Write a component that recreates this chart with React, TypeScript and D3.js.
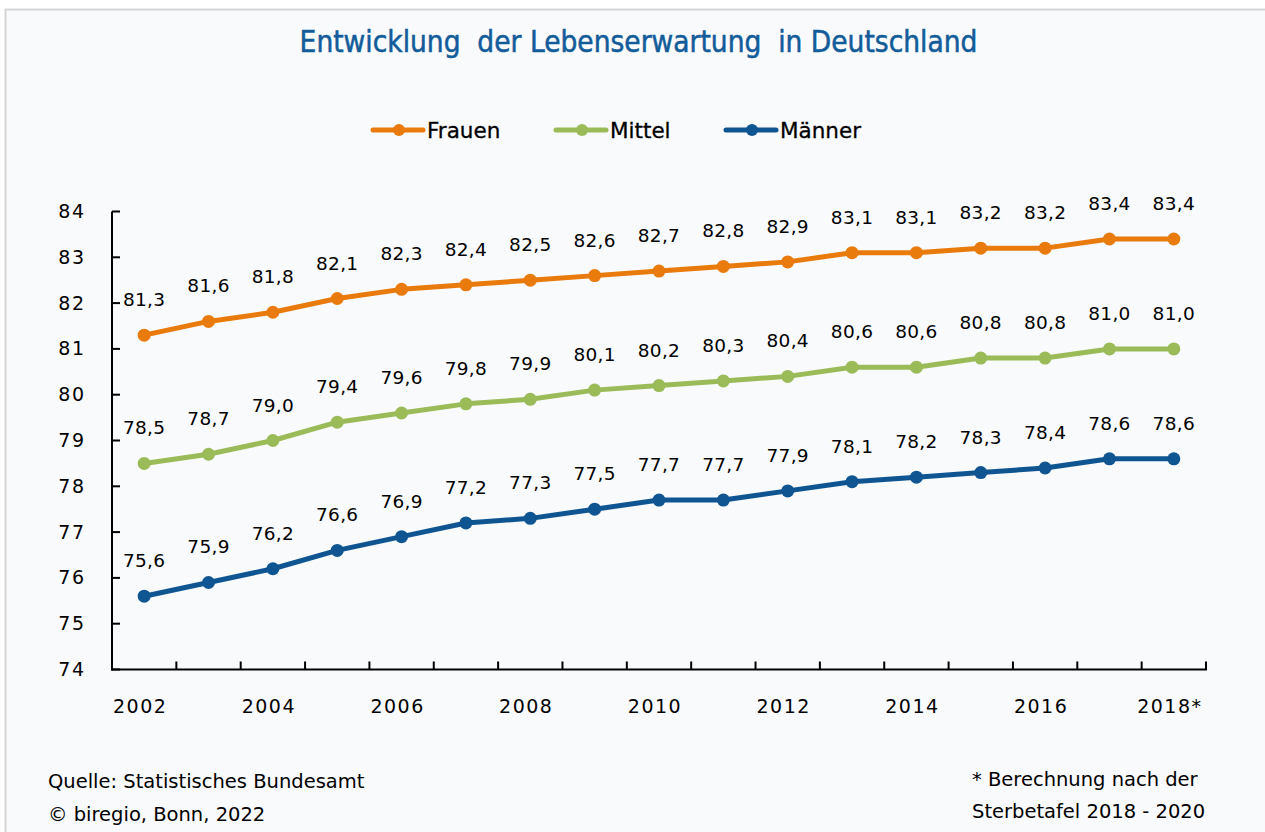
import React from "react";
import * as d3 from "d3";

const years = ["2002","2003","2004","2005","2006","2007","2008","2009","2010","2011","2012","2013","2014","2015","2016","2017","2018"];
const xTickLabels = ["2002","","2004","","2006","","2008","","2010","","2012","","2014","","2016","","2018*"];
const frauen = [81.3,81.6,81.8,82.1,82.3,82.4,82.5,82.6,82.7,82.8,82.9,83.1,83.1,83.2,83.2,83.4,83.4];
const mittel = [78.5,78.7,79.0,79.4,79.6,79.8,79.9,80.1,80.2,80.3,80.4,80.6,80.6,80.8,80.8,81.0,81.0];
const maenner = [75.6,75.9,76.2,76.6,76.9,77.2,77.3,77.5,77.7,77.7,77.9,78.1,78.2,78.3,78.4,78.6,78.6];
const yTicks = [74,75,76,77,78,79,80,81,82,83,84];

const seriesList = [
  { name: "Frauen", values: frauen, color: "#E97A0C" },
  { name: "Mittel", values: mittel, color: "#9BBB59" },
  { name: "Männer", values: maenner, color: "#0E5591" },
];

const W = 1265, H = 832;
const NUM_FONT = "'DejaVu Sans', sans-serif";

export default function App() {
  const x = d3.scaleBand<string>().domain(years).range([112, 1206]).padding(0);
  const y = d3.scaleLinear().domain([74, 84]).range([669.5, 211.5]);
  const cx = (yr: string) => (x(yr) as number) + x.bandwidth() / 2;
  const line = d3.line<number>().x((_, i) => cx(years[i])).y((v) => y(v));
  const fmt = (v: number) => v.toFixed(1).replace(".", ",");

  const legendItems = [
    { ...seriesList[0], x0: 373 },
    { ...seriesList[1], x0: 556 },
    { ...seriesList[2], x0: 726 },
  ];

  return (
    <div style={{ position: "absolute", left: 0, top: 0 }}>
      <svg width={W} height={H} style={{ display: "block" }}>
        <rect x={0} y={0} width={W} height={H} fill="#ffffff" />
        <rect x={5.5} y={9.5} width={W + 10} height={H + 10} fill="#f9fafc" stroke="#d6d6d6" strokeWidth={2} />
        <text x={638.5} y={52} textAnchor="middle" fill="#125c9a" stroke="#125c9a" strokeWidth={0.5}
          style={{ fontFamily: "'DejaVu Sans Condensed', 'DejaVu Sans', sans-serif", fontSize: 29.5, whiteSpace: "pre" }}>
          {"Entwicklung  der Lebenserwartung  in Deutschland"}
        </text>

        {legendItems.map((l) => (
          <g key={l.name}>
            <line x1={l.x0} x2={l.x0 + 50} y1={130} y2={130} stroke={l.color} strokeWidth={5} strokeLinecap="round" />
            <circle cx={l.x0 + 26} cy={130} r={6} fill={l.color} />
            <text x={l.x0 + 54} y={138} fill="#000" stroke="#000" strokeWidth={0.3} style={{ fontFamily: NUM_FONT, fontSize: 21.5 }}>{l.name}</text>
          </g>
        ))}

        {/* axes */}
        <line x1={112} x2={112} y1={y(84)} y2={y(74) + 1} stroke="#000" strokeWidth={2} />
        <line x1={111} x2={1207} y1={y(74)} y2={y(74)} stroke="#000" strokeWidth={2} />
        {yTicks.map((t) => (
          <g key={t}>
            <line x1={112} x2={120} y1={y(t)} y2={y(t)} stroke="#000" strokeWidth={2} />
            <text x={85.5} y={y(t) + 6.5} textAnchor="end" fill="#000" style={{ fontFamily: NUM_FONT, fontSize: 19, letterSpacing: 1.5 }}>{t}</text>
          </g>
        ))}
        {years.map((yr, i) => (
          <g key={yr}>
            <line x1={(x(yr) as number) + x.bandwidth()} x2={(x(yr) as number) + x.bandwidth()} y1={y(74)} y2={y(74) - 8} stroke="#000" strokeWidth={2} />
            {xTickLabels[i] && (
              <text x={cx(yr) - 4} y={713} textAnchor="middle" fill="#000" style={{ fontFamily: NUM_FONT, fontSize: 19, letterSpacing: 1.5 }}>{xTickLabels[i]}</text>
            )}
          </g>
        ))}

        {seriesList.map((s) => (
          <g key={s.name}>
            <path d={line(s.values) || ""} fill="none" stroke={s.color} strokeWidth={5} strokeLinejoin="round" />
            {s.values.map((v, i) => (
              <circle key={i} cx={cx(years[i])} cy={y(v)} r={6.5} fill={s.color} />
            ))}
            {s.values.map((v, i) => (
              <text key={"t" + i} x={cx(years[i])} y={y(v) - 29} textAnchor="middle" fill="#000" style={{ fontFamily: NUM_FONT, fontSize: 18.5, letterSpacing: 0.3 }}>{fmt(v)}</text>
            ))}
          </g>
        ))}

        <text x={48} y={788} fill="#000" style={{ fontFamily: NUM_FONT, fontSize: 19.5 }}>Quelle: Statistisches Bundesamt</text>
        <text x={48} y={821} fill="#000" style={{ fontFamily: NUM_FONT, fontSize: 19.5 }}>© biregio, Bonn, 2022</text>
        <text x={972} y={786} fill="#000" style={{ fontFamily: NUM_FONT, fontSize: 19.5, whiteSpace: "pre" }}>{"* Berechnung nach der"}</text>
        <text x={972} y={818} fill="#000" style={{ fontFamily: NUM_FONT, fontSize: 19.5, whiteSpace: "pre" }}>{"Sterbetafel 2018 - 2020"}</text>
      </svg>
    </div>
  );
}
